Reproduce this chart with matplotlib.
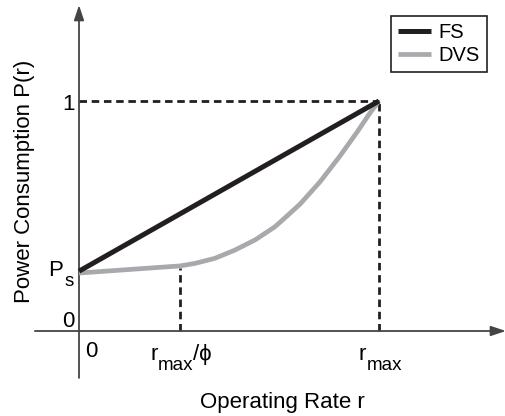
import numpy as np
import matplotlib.pyplot as plt
from matplotlib.transforms import offset_copy

plt.rcParams['font.family'] = ['Liberation Sans', 'DejaVu Sans']

# ---- data (r normalised to r_max = 1, P normalised to P(r_max) = 1)
p_s = 0.26
r_knee = 0.337          # r_max / phi
fs_r = [0.0, 1.0]
fs_p = [p_s, 1.0]
dvs_r = [0.0, 0.337, 0.387, 0.453, 0.52, 0.587, 0.653, 0.695, 0.737, 0.803, 0.87, 0.927, 0.97, 1.0]
dvs_p = [0.252, 0.283, 0.294, 0.316, 0.352, 0.396, 0.453, 0.502, 0.552, 0.648, 0.761, 0.865, 0.948, 1.0]

black = '#231f20'
grey = '#a7a9ac'

W, H = 506, 416
fig = plt.figure(figsize=(W / 100, H / 100), dpi=100)
ax = fig.add_axes([0, 0, 1, 1])
# pixel layout: r=0 at x=79, r_max at x=379 ; P=0 at y=331, P=1 at y=101
ax.set_xlim(-79 / 300, (W - 79) / 300)
ax.set_ylim((331 - H) / 230, 331 / 230)
ax.axis('off')

#======================================= axes with arrows
axc = '#444444'
arr = dict(arrowstyle='-|>,head_length=0.9,head_width=0.3', color=axc, lw=1.3, shrinkA=0, shrinkB=0)
ax.annotate('', xy=(1.423, 0), xytext=(-0.147, 0), arrowprops=arr)
ax.annotate('', xy=(0, 1.417), xytext=(0, -0.204), arrowprops=arr)

#======================================= dashed guides
dash = dict(color=black, lw=2.0, dashes=(2.7, 1.7))
ax.plot([0, 1], [1, 1], **dash)
ax.plot([1, 1], [0, 1], **dash)
ax.plot([r_knee, r_knee], [0, dvs_p[1] - 0.01], **dash)

#======================================= curves
ax.plot(dvs_r, dvs_p, color=grey, lw=3.4, solid_capstyle='butt', solid_joinstyle='round', label='DVS', zorder=3)
ax.plot(fs_r, fs_p, color=black, lw=3.6, solid_capstyle='butt', label='FS', zorder=4)

#======================================= tick texts
def sub_text(x, y, base, sub, tail='', size=16, subsize=13.5, base_w=0.333, sub_w=1.889):
	# base text + lowered subscript (+ optional tail), Arial metrics for advances
	ax.text(x, y, base, ha='left', va='baseline', fontsize=size)
	tr = offset_copy(ax.transData, fig=fig, x=base_w * size + 0.3, y=-7.2, units='points')
	ax.text(x, y, sub, ha='left', va='baseline', fontsize=subsize, transform=tr)
	if tail:
		tr2 = offset_copy(ax.transData, fig=fig, x=base_w * size + sub_w * subsize, y=0, units='points')
		ax.text(x, y, tail, ha='left', va='baseline', fontsize=size, transform=tr2)

ax.text(0.02, -0.112, '0', ha='left', va='baseline', fontsize=16)
sub_text(0.237, -0.126, 'r', 'max', '/ϕ')
sub_text(0.932, -0.126, 'r', 'max')

ax.text(-0.015, 0.961, '1', ha='right', va='baseline', fontsize=16)
ax.text(-0.015, 0.0174, '0', ha='right', va='baseline', fontsize=16)
sub_text(-0.1017, 0.2375, 'P', 's', size=16, base_w=0.69)

ax.text(-0.18, 0.65, 'Power Consumption P(r)', rotation=90, ha='center', va='center', fontsize=16)
ax.text(0.677, -0.335, 'Operating Rate r', ha='center', va='baseline', fontsize=16)

h, l = ax.get_legend_handles_labels()
leg = ax.legend(h[::-1], l[::-1], loc='upper right', bbox_to_anchor=(487 / W, 1 - 16 / H),
				bbox_transform=fig.transFigure, borderaxespad=0, fancybox=False,
				edgecolor=black, fontsize=14.5, handlelength=1.6, handletextpad=0.4,
				borderpad=0.35, labelspacing=0.2, framealpha=1)
leg.get_frame().set_linewidth(1.2)

fig.savefig('out.png', dpi=100)
